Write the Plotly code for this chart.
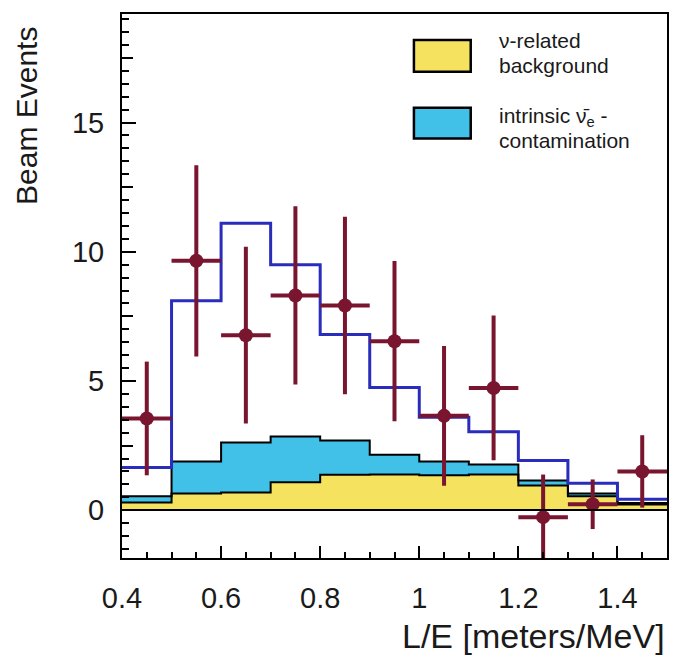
import plotly.graph_objects as go

# ---------------- data ----------------
bin_edges = [0.4, 0.5, 0.6, 0.7, 0.8, 0.9, 1.0, 1.1, 1.2, 1.3, 1.4, 1.5]
bin_centers = [0.45, 0.55, 0.65, 0.75, 0.85, 0.95, 1.05, 1.15, 1.25, 1.35, 1.45]
beam_events = [3.55, 9.65, 6.77, 8.31, 7.92, 6.54, 3.65, 4.73, -0.27, 0.23, 1.5]
beam_errors = [2.2, 3.7, 3.42, 3.45, 3.43, 3.1, 2.7, 2.8, 1.65, 0.96, 1.4]
nu_related_bkg = [0.30, 0.65, 0.68, 1.08, 1.37, 1.38, 1.35, 1.38, 0.96, 0.54, 0.22]
intrinsic_nuebar = [0.24, 1.23, 1.94, 1.77, 1.33, 0.77, 0.53, 0.39, 0.19, 0.11, 0.06]
expectation = [1.65, 8.1, 11.1, 9.5, 6.8, 4.75, 3.6, 3.04, 1.92, 1.04, 0.42]
half_bin = 0.05

x_tick_vals = [0.4, 0.6, 0.8, 1.0, 1.2, 1.4]
x_tick_text = ["0.4", "0.6", "0.8", "1", "1.2", "1.4"]
y_tick_vals = [0, 5, 10, 15]
y_mid_tick_vals = [2.5, 7.5, 12.5, 17.5]

# ---------------- styles ----------------
YELLOW = "#f5e35f"
CYAN = "#41c1e8"
BLUE = "#2a2cbc"
DARKRED = "#7a1530"
TEXT = "#1a1a1a"
FONT = "Liberation Sans, Arial, sans-serif"

W, H = 681, 655
ML, MR, MT, MB = 122, 12, 12, 97
PW, PH = W - ML - MR, H - MT - MB


def px(x):
    return (x - ML) / PW


def py(y):
    return (H - MB - y) / PH


def steps(vals):
    return vals + [vals[-1]]


stack_top = [a + b for a, b in zip(nu_related_bkg, intrinsic_nuebar)]

fig = go.Figure()

fig.add_trace(go.Scatter(
    x=bin_edges, y=steps(nu_related_bkg), mode="lines", line_shape="hv",
    line=dict(color="black", width=2), fill="tozeroy", fillcolor=YELLOW,
    showlegend=False, hoverinfo="skip"))
fig.add_trace(go.Scatter(
    x=bin_edges, y=steps(stack_top), mode="lines", line_shape="hv",
    line=dict(color="black", width=2), fill="tonexty", fillcolor=CYAN,
    showlegend=False, hoverinfo="skip"))
fig.add_trace(go.Scatter(
    x=bin_edges, y=steps(expectation), mode="lines", line_shape="hv",
    line=dict(color=BLUE, width=3), showlegend=False, hoverinfo="skip"))
fig.add_trace(go.Scatter(
    x=bin_centers, y=beam_events, mode="markers",
    marker=dict(color=DARKRED, size=14),
    error_y=dict(type="data", array=beam_errors, color=DARKRED, thickness=4, width=0),
    error_x=dict(type="constant", value=half_bin, color=DARKRED, thickness=4, width=0),
    showlegend=False))
# empty trace on overlay axis that carries the medium y ticks
fig.add_trace(go.Scatter(x=[None], y=[None], yaxis="y2", showlegend=False,
                         hoverinfo="skip"))

fig.update_layout(
    width=W, height=H,
    margin=dict(l=ML, r=MR, t=MT, b=MB, pad=0),
    paper_bgcolor="white", plot_bgcolor="white",
    font=dict(family=FONT, color=TEXT),
    xaxis=dict(
        range=[0.4, 1.5], tickvals=x_tick_vals, ticktext=x_tick_text,
        ticks="inside", ticklen=12, tickwidth=2, tickcolor="black",
        minor=dict(dtick=0.05, tick0=0.4, ticks="inside", ticklen=6,
                   tickwidth=2, tickcolor="black", showgrid=False),
        showgrid=False, zeroline=False,
        showline=True, linecolor="black", linewidth=2, mirror=True,
        tickfont=dict(size=29, family=FONT, color=TEXT),
        ticklabelstandoff=13,
    ),
    yaxis=dict(
        range=[-1.85, 19.2], tickvals=y_tick_vals,
        ticks="inside", ticklen=14, tickwidth=2, tickcolor="black",
        minor=dict(dtick=0.5, tick0=0, ticks="inside", ticklen=7,
                   tickwidth=2, tickcolor="black", showgrid=False),
        showgrid=False, zeroline=True, zerolinecolor="black", zerolinewidth=2,
        showline=True, linecolor="black", linewidth=2, mirror=True,
        tickfont=dict(size=29, family=FONT, color=TEXT),
        ticklabelstandoff=10,
    ),
    yaxis2=dict(
        range=[-1.85, 19.2], overlaying="y", side="left",
        tickvals=y_mid_tick_vals, showticklabels=False,
        ticks="inside", ticklen=11, tickwidth=2, tickcolor="black",
        showgrid=False, zeroline=False, showline=False,
    ),
)

try:
    fig.update_layout(yaxis_zerolinelayer="above traces")
except Exception:
    pass

# axis titles
fig.add_annotation(text="Beam Events", xref="paper", yref="paper",
                   x=px(26), y=py(114), xanchor="center", yanchor="middle",
                   textangle=-90, showarrow=False,
                   font=dict(size=30, family=FONT, color=TEXT))
fig.add_annotation(text="L/E [meters/MeV]", xref="paper", yref="paper",
                   x=px(669), y=py(636), xanchor="right", yanchor="middle",
                   showarrow=False,
                   font=dict(size=34, family=FONT, color=TEXT))

# legend (boxes + text)
legend_boxes = [(YELLOW, 38, 70), (CYAN, 106, 137)]
for color, top, bottom in legend_boxes:
    fig.add_shape(type="rect", xref="paper", yref="paper",
                  x0=px(415), x1=px(472), y0=py(bottom), y1=py(top),
                  fillcolor=color, line=dict(color="black", width=2.5))

legend_lines = [("\u03bd-related", 39), ("background", 64),
                ("intrinsic \u03bd\u0304<sub>e</sub> -", 115), ("contamination", 139)]
for txt, yc in legend_lines:
    fig.add_annotation(text=txt, xref="paper", yref="paper",
                       x=px(498), y=py(yc), xanchor="left", yanchor="middle",
                       showarrow=False,
                       font=dict(size=21, family=FONT, color=TEXT))

fig.write_html("out.html")
